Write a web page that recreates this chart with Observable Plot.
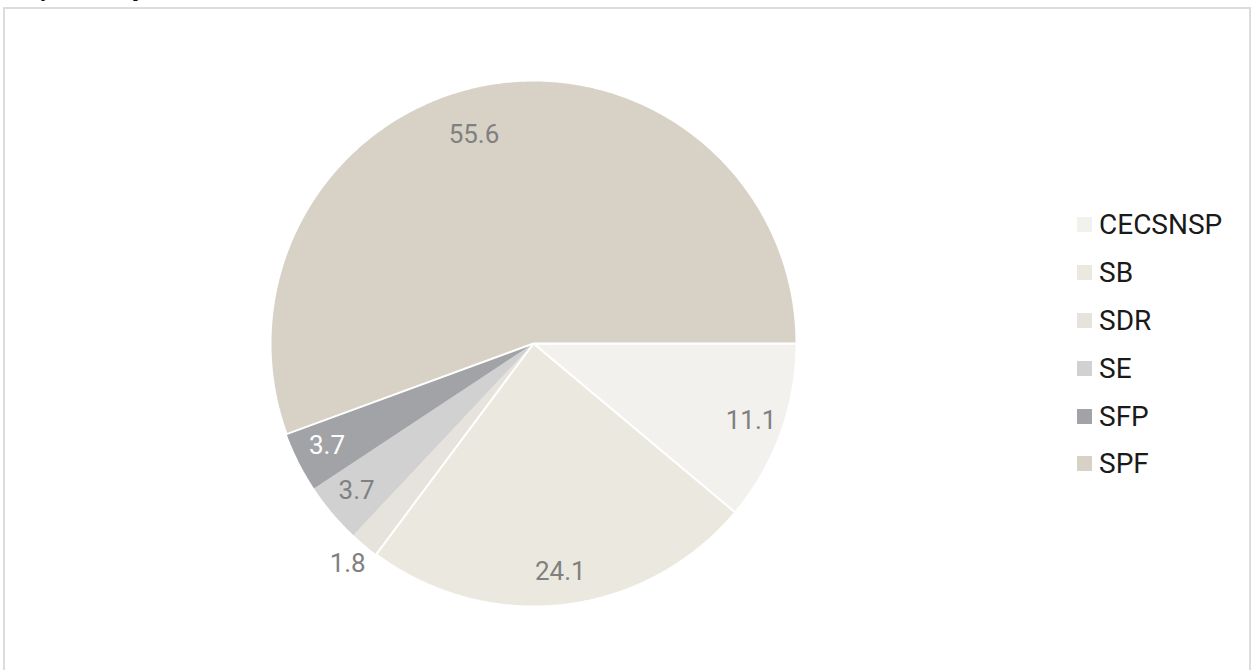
<!DOCTYPE html>
<html>
<head>
<meta charset="utf-8">
<script src="https://cdn.jsdelivr.net/npm/d3@7"></script>
<script src="https://cdn.jsdelivr.net/npm/@observablehq/plot@0.6"></script>
<style>
  html, body { margin: 0; padding: 0; background: #fff; overflow: hidden; }
  body { width: 1251px; height: 670px; position: relative; font-family: Roboto, "Noto Sans", sans-serif; }
  #title { position: absolute; left: 1px; top: -24px; font: bold 21px "Open Sans", sans-serif; color: #111; line-height: 24px; white-space: nowrap; }
  #frame { position: absolute; left: 3px; top: 7px; width: 1248px; height: 720px; box-sizing: border-box; border: 2px solid #dcdcdc; background: #fff; }
  #chart { position: absolute; left: 0; top: 0; }
  #legend { position: absolute; left: 1077px; top: 201px; }
  #legend .lg-swatches-columns { margin: 0 !important; display: block !important; }
  #legend .lg-swatch { height: 47.8px !important; display: flex !important; align-items: center !important; font: 28px Roboto, sans-serif; color: #1a1a1a; margin: 0 !important; padding: 0 !important; }
  #legend .lg-swatch svg { margin-right: 7px !important; }
</style>
</head>
<body>
<div id="title">(en porcentaje)</div>
<div id="frame"></div>
<div id="chart"></div>
<div id="legend"></div>
<script>
// ---- data ----
const categories = ["CECSNSP", "SB", "SDR", "SE", "SFP", "SPF"];
const values = [11.1, 24.1, 1.8, 3.7, 3.7, 55.6];
const colors = ["#f2f1ee", "#ebe9df", "#e5e3dc", "#d1d1d1", "#a2a3a6", "#d8d2c6"];

// ---- geometry (unit circle, clockwise from east, y down) ----
const total = d3.sum(values);
const slices = [];
let acc = 0;
categories.forEach((c, i) => {
  const a0 = acc / total * 2 * Math.PI;
  acc += values[i];
  const a1 = acc / total * 2 * Math.PI;
  slices.push({cat: c, value: values[i], a0, a1, i});
});

const stroked = new Set(["CECSNSP", "SB", "SPF"]);
const polys = [];
for (const s of slices) {
  const pts = [{x: 0, y: 0}];
  const n = Math.max(4, Math.ceil((s.a1 - s.a0) / (Math.PI / 360)));
  for (let k = 0; k <= n; k++) {
    const a = s.a0 + (s.a1 - s.a0) * k / n;
    pts.push({x: Math.cos(a), y: Math.sin(a)});
  }
  pts.push({x: 0, y: 0});
  pts.forEach(p => { p.cat = s.cat; p.order = stroked.has(s.cat) ? 1 : 0; });
  polys.push(pts);
}
const plain = polys.filter(p => p[0].order === 0).flat();
const outlined = polys.filter(p => p[0].order === 1).flat();

const labels = slices.map(s => {
  const frac = s.value / total;
  const m = (s.a0 + s.a1) / 2;
  const k = frac < 0.025 ? 1.1 : 0.88;
  return {cat: s.cat, text: s.value.toFixed(1), x: Math.cos(m) * k, y: Math.sin(m) * k, frac};
});
const bigLabel = labels.filter(d => d.frac > 0.5);
const otherLabels = labels.filter(d => d.frac <= 0.5);

const color = {domain: categories, range: colors};

const chart = Plot.plot({
  width: 1251,
  height: 670,
  margin: 0,
  style: {background: "transparent", overflow: "visible"},
  x: {domain: [-1, 1], range: [533 - 263, 533 + 263], axis: null},
  y: {domain: [-1, 1], range: [343 - 263, 343 + 263], axis: null},
  color,
  marks: [
    Plot.line(plain, {x: "x", y: "y", z: "cat", fill: "cat", stroke: "none", curve: "linear"}),
    Plot.line(outlined, {x: "x", y: "y", z: "cat", fill: "cat", stroke: "white", strokeWidth: 2, strokeLinejoin: "miter", curve: "linear"}),
    Plot.text(otherLabels, {x: "x", y: "y", text: "text", fill: d => d.cat === "SFP" ? "#ffffff" : "#808080", fontSize: 26, fontFamily: "Roboto", dy: -2}),
    Plot.text(bigLabel, {x: "x", y: "y", text: "text", fill: "#808080", fontSize: 26, fontFamily: "Roboto", dx: -19, dy: 19})
  ]
});
document.getElementById("chart").appendChild(chart);

const legend = Plot.legend({
  color,
  legend: "swatches",
  columns: 1,
  swatchSize: 15,
  className: "lg"
});
document.getElementById("legend").appendChild(legend);
</script>
</body>
</html>
